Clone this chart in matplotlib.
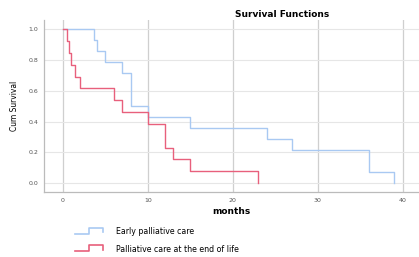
import matplotlib
matplotlib.use('Agg')
import matplotlib.pyplot as plt
from matplotlib.legend_handler import HandlerBase
from matplotlib.lines import Line2D

# Kaplan-Meier step data
early_t = [0, 3.7, 4, 5, 7, 8, 10, 15, 24, 27, 36, 39]
early_s = [1.0, 0.929, 0.857, 0.786, 0.714, 0.5, 0.429, 0.357, 0.286, 0.214, 0.071, 0.0]

late_t = [0, 0.5, 0.75, 1, 1.5, 2, 6, 7, 10, 12, 13, 15, 23]
late_s = [1.0, 0.923, 0.846, 0.769, 0.692, 0.615, 0.538, 0.462, 0.385, 0.231, 0.154, 0.077, 0.0]

labels = ['Early palliative care', 'Palliative care at the end of life']
colors = ['#a9c9f2', '#e8607c']
x_ticks = [0, 10, 20, 30, 40]
y_ticks = [0.0, 0.2, 0.4, 0.6, 0.8, 1.0]


class StepHandler(HandlerBase):
    def create_artists(self, legend, orig, xd, yd, w, h, fontsize, trans):
        xs = [xd, xd + 0.5 * w, xd + 0.5 * w, xd + w, xd + w]
        ys = [yd, yd, yd + h, yd + h, yd + 0.2 * h]
        ln = Line2D(xs, ys, color=orig.get_color(), lw=1.2, transform=trans)
        return [ln]


fig = plt.figure(figsize=(4.19, 2.57), dpi=100)
ax = fig.add_axes([0.105, 0.253, 0.895, 0.669])

for t, s, c in zip([early_t, late_t], [early_s, late_s], colors):
    ax.step(t, s, where='post', color=c, lw=1.0)

ax.set_xlim(-2.2, 41.9)
ax.set_ylim(-0.058, 1.06)
ax.set_xticks(x_ticks)
ax.set_yticks(y_ticks)
ax.set_yticklabels([f'{v:.1f}' for v in y_ticks])
ax.tick_params(labelsize=4.5, colors='#555555', length=0, pad=4)
ax.grid(axis='x', color='#cfcfcf', lw=0.9)
ax.grid(axis='y', color='#e6e6e6', lw=0.8)
ax.set_axisbelow(True)
for side in ['top', 'right']:
    ax.spines[side].set_visible(False)
for side in ['left', 'bottom']:
    ax.spines[side].set_color('#bbbbbb')
    ax.spines[side].set_linewidth(0.9)

ax.set_title('Survival Functions', fontsize=6.5, fontweight='bold', x=0.635, pad=2)
ax.set_xlabel('months', fontsize=6.5, fontweight='bold', labelpad=3)
ax.set_ylabel('Cum Survival', fontsize=6, labelpad=7, fontstretch='condensed')

handles = [Line2D([], [], color=c) for c in colors]
fig.legend(handles, labels, handler_map={Line2D: StepHandler()},
           loc='upper left', bbox_to_anchor=(0.163, 0.145), frameon=False,
           fontsize=5.7, handlelength=3.5, handleheight=0.8,
           labelspacing=1.1, handletextpad=1.6)

fig.savefig('out.png', dpi=100)
